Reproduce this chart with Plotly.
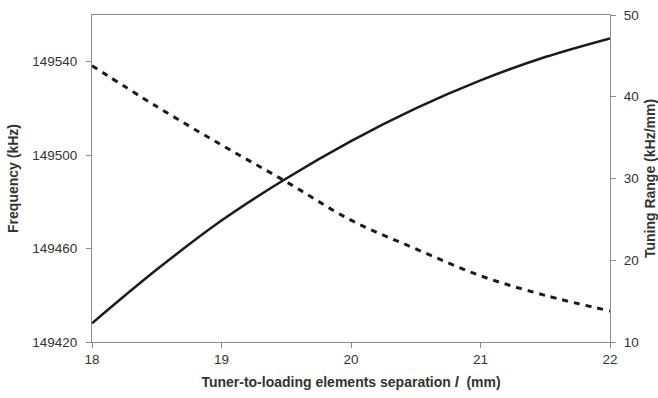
import plotly.graph_objects as go

sep = [18, 18.5, 19, 19.5, 20, 20.5, 21, 21.5, 22]
frequency = [149428, 149451, 149472, 149490, 149506, 149520, 149532, 149542, 149550]
tuning_range = [43.8, 38.8, 34.1, 29.6, 24.9, 21.4, 18.1, 15.7, 13.8]

fig = go.Figure()
fig.add_trace(go.Scatter(x=sep, y=frequency, mode="lines", line=dict(color="#1a1a1a", width=2.5, shape="spline"),
                         name="Frequency", yaxis="y"))
fig.add_trace(go.Scatter(x=sep, y=tuning_range, mode="lines",
                         line=dict(color="#1a1a1a", width=3, dash="6px,6px", shape="spline"),
                         name="Tuning Range", yaxis="y2"))

tfont = dict(family="Liberation Sans, Arial", size=13.5, color="#333333")
titlefont = dict(family="Liberation Sans, Arial", size=14, color="#333333", weight="bold")
axis_common = dict(showgrid=False, zeroline=False, linecolor="#8c8c8c", linewidth=1,
                   ticks="outside", ticklen=5, tickcolor="#8c8c8c", automargin=False,
                   tickfont=tfont)

fig.update_layout(
    width=658, height=398,
    margin=dict(l=92, r=48, t=15, b=56),
    paper_bgcolor="white", plot_bgcolor="white",
    showlegend=False,
    xaxis=dict(range=[18, 22], dtick=1, mirror=True,
               title=dict(text="Tuner-to-loading elements separation <i>l</i>  (mm)",
                          font=titlefont, standoff=10),
               **axis_common),
    yaxis=dict(range=[149420, 149560], tickvals=[149420, 149460, 149500, 149540], tickformat="d",
               ticklabelstandoff=6,
               title=dict(text="Frequency (kHz)", font=titlefont, standoff=10),
               **axis_common),
    yaxis2=dict(range=[10, 50], dtick=10, overlaying="y", side="right", ticklabelstandoff=5,
                title=dict(text="Tuning Range (kHz/mm)", font=titlefont, standoff=12),
                **axis_common),
)

fig.write_html("out.html")
